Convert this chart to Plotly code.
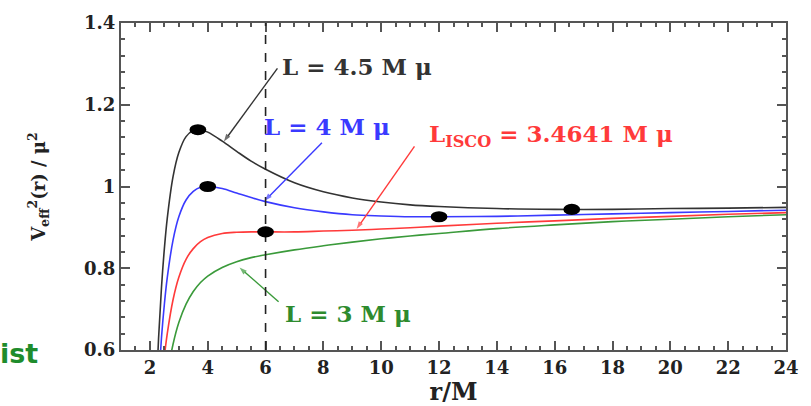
import plotly.graph_objects as go

# radii r/M
r_vals = [2.2, 2.3, 2.4, 2.5, 2.6, 2.8, 3.0, 3.25, 3.5, 3.75, 4.0, 4.5, 5.0, 5.5, 6.0,
          7.0, 8.0, 9.0, 10.0, 11.0, 12.0, 14.0, 16.0, 18.0, 20.0, 22.0, 24.0]
# V_eff^2 / mu^2 for each angular momentum
v_L45 = [0.471, 0.630, 0.753, 0.848, 0.922, 1.024, 1.083, 1.122, 1.137, 1.139, 1.133, 1.111, 1.086,
         1.062, 1.042, 1.009, 0.987, 0.972, 0.962, 0.955, 0.951, 0.946, 0.944, 0.944, 0.946, 0.947, 0.949]
v_L4 = [0.391, 0.525, 0.630, 0.712, 0.777, 0.869, 0.926, 0.967, 0.988, 0.998, 1.000, 0.995, 0.984,
        0.973, 0.963, 0.948, 0.938, 0.931, 0.928, 0.926, 0.926, 0.927, 0.930, 0.933, 0.936, 0.939, 0.942]
v_Lisco = [0.316, 0.426, 0.514, 0.584, 0.640, 0.723, 0.778, 0.822, 0.848, 0.865, 0.875, 0.885, 0.888,
           0.889, 0.889, 0.889, 0.891, 0.893, 0.896, 0.899, 0.903, 0.910, 0.916, 0.922, 0.927, 0.932, 0.936]
v_L3 = [0.260, 0.352, 0.427, 0.488, 0.538, 0.614, 0.667, 0.712, 0.743, 0.765, 0.781, 0.802, 0.816,
        0.826, 0.833, 0.845, 0.855, 0.864, 0.872, 0.879, 0.885, 0.897, 0.906, 0.914, 0.920, 0.926, 0.931]

# extrema (dots)
ext_r = [3.66, 4.0, 6.0, 12.0, 16.59]
ext_v = [1.139, 1.0, 0.889, 0.926, 0.944]

x_ticks = [2, 4, 6, 8, 10, 12, 14, 16, 18, 20, 22, 24]
y_ticks = [0.6, 0.8, 1.0, 1.2, 1.4]
y_tick_text = ["0.6", "0.8", "1", "1.2", "1.4"]
r_isco_line = 6.0

C_BLACK = "#333333"
C_BLUE = "#3a3aff"
C_RED = "#ff3a3a"
C_GREEN = "#3a9a3a"
SERIF = "DejaVu Serif"

fig = go.Figure()
for vals, col in [(v_L45, C_BLACK), (v_L4, C_BLUE), (v_Lisco, C_RED), (v_L3, C_GREEN)]:
    fig.add_trace(go.Scatter(x=r_vals, y=vals, mode="lines", line=dict(color=col, width=1.6, shape="spline"),
                             showlegend=False, hoverinfo="skip"))

# dashed vertical line at r = 6M
fig.add_shape(type="line", xref="x", yref="paper", x0=r_isco_line, x1=r_isco_line, y0=0, y1=1,
              line=dict(color="#222222", width=1.6, dash="dash"))

# elliptical dots at extrema
hw, hh = 0.29, 0.0135
for xr, yv in zip(ext_r, ext_v):
    fig.add_shape(type="circle", xref="x", yref="y", x0=xr - hw, x1=xr + hw, y0=yv - hh, y1=yv + hh,
                  fillcolor="black", line=dict(color="black", width=0))

# arrows: (tail_x, tail_y, tip_x, tip_y, colour)
arrows = [
    (6.41, 1.289, 4.56, 1.110, C_BLACK),
    (7.95, 1.107, 5.97, 0.965, C_BLUE),
    (11.15, 1.098, 9.15, 0.896, C_RED),
    (6.45, 0.718, 5.1, 0.802, C_GREEN),
]
for ax, ay, x, y, col in arrows:
    fig.add_trace(go.Scatter(x=[ax, x], y=[ay, y], mode="lines+markers",
                             line=dict(color=col, width=1.4),
                             marker=dict(symbol=["circle", "arrow"], size=[0, 8], color=col, angleref="previous",
                                         line=dict(width=0)),
                             showlegend=False, hoverinfo="skip"))

labels = [
    ("L = 4.5 M μ", 6.49, 1.294, C_BLACK),
    ("L = 4 M μ", 5.87, 1.146, C_BLUE),
    ("L<sub>ISCO</sub> = 3.4641 M μ", 11.57, 1.126, C_RED),
    ("L = 3 M μ", 6.59, 0.690, "#2e8b2e"),
]
for txt, x, y, col in labels:
    fig.add_annotation(x=x, y=y, xref="x", yref="y", text="<b>" + txt + "</b>", showarrow=False,
                       xanchor="left", yanchor="middle", font=dict(family=SERIF, size=23, color=col))

fig.add_annotation(x=-0.1216, y=-0.012, xref="paper", yref="paper", text="<b>ist</b>", showarrow=False,
                   xanchor="right", yanchor="middle",
                   font=dict(family="DejaVu Sans", size=27, color="#1e8c2c"))

axis_common = dict(showline=True, linecolor="#555555", linewidth=2, mirror="ticks", ticks="inside",
                   tickcolor="#555555", tickwidth=1.5, showgrid=False, zeroline=False,
                   tickfont=dict(family=SERIF, size=18, color="#222222", weight="bold"))

fig.update_xaxes(range=[1, 24], tickvals=x_ticks, ticklen=9,
                 minor=dict(dtick=0.5, tick0=0, ticks="inside", ticklen=4, tickcolor="#555555", showgrid=False),
                 title=dict(text="<b>r/M</b>", font=dict(family=SERIF, size=24, color="#222222"), standoff=0),
                 **axis_common)
fig.update_yaxes(range=[0.6, 1.4], tickvals=y_ticks, ticktext=y_tick_text, ticklen=9,
                 minor=dict(dtick=0.04, tick0=0, ticks="inside", ticklen=4, tickcolor="#555555", showgrid=False),
                 title=dict(text="<b>V<sub>eff</sub><sup>2</sup>(r) / μ<sup>2</sup></b>",
                            font=dict(family=SERIF, size=18, color="#222222"), standoff=34),
                 **axis_common)

fig.update_layout(width=811, height=406, margin=dict(l=121, r=24, t=14, b=45),
                  plot_bgcolor="white", paper_bgcolor="white")

fig.write_html("out.html")
